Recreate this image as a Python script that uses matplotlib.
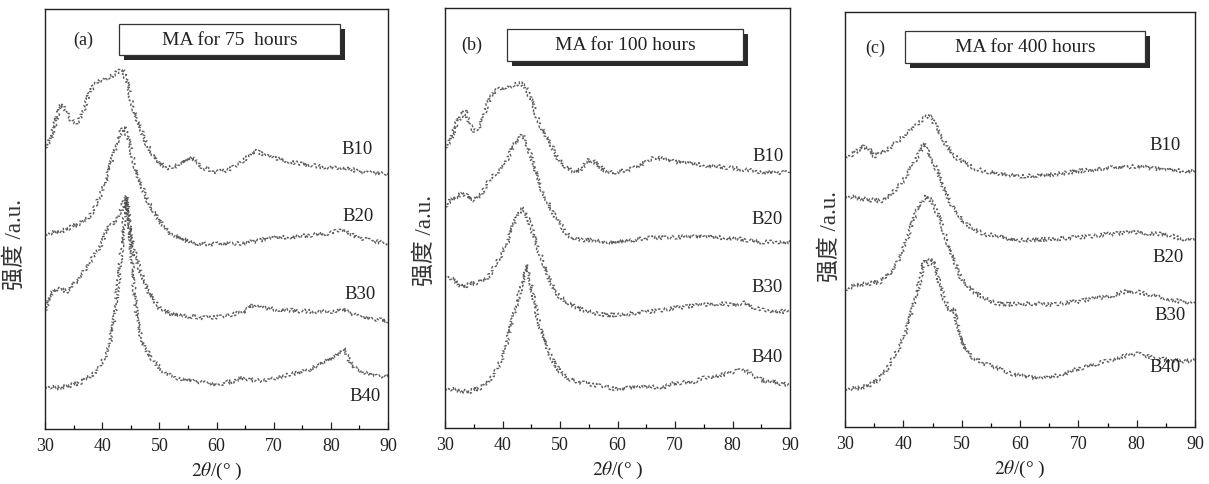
import matplotlib
matplotlib.use("Agg")
import matplotlib.pyplot as plt
from matplotlib.patches import Rectangle
from matplotlib.ticker import MultipleLocator

plt.rcParams["font.family"] = ["Liberation Serif", "Noto Sans CJK SC"]
plt.rcParams["mathtext.fontset"] = "stix"

# ---- data: XRD patterns (2theta in degrees, stacked intensity in a.u.) ----
PANEL_TITLES = ["MA for 75  hours", "MA for 100 hours", "MA for 400 hours"]
PANEL_TAGS = ["(a)", "(b)", "(c)"]
SAMPLES = ["B10", "B20", "B30", "B40"]

# (a) 75 h
A_B10_X = [30, 31, 31.5, 32.2, 32.9, 33.5, 34.2, 35, 35.6, 36.3, 37, 37.8, 38.5, 39.5, 41, 42, 43, 43.5,
           44.3, 45, 46, 47, 47.8, 48.7, 49.5, 51.3, 52.5, 53.6, 54.7, 55.7, 56.7, 57.7, 59, 60, 62, 64,
           65.5, 67, 68.5, 70, 72.5, 75, 77.5, 80, 83, 85, 87.5, 90]
A_B10_Y = [281, 290, 300, 315, 325, 320, 311, 307, 305, 312, 323, 336, 343, 348, 351, 354, 358, 360,
           348, 330, 311, 296, 285, 276, 268, 261, 262, 265, 269, 271, 266, 261, 259, 257, 259, 266,
           272, 278, 273, 271, 268, 265, 263, 261, 261, 257, 256, 255]
A_B20_X = [30, 33, 35, 37, 38.5, 40, 41, 42, 43, 43.8, 44.5, 45.5, 46.5, 48, 50, 52, 54, 56, 58, 60,
           65, 70, 75, 78, 80, 82, 83, 84, 87, 90]
A_B20_Y = [195, 198, 203, 208, 218, 238, 255, 275, 293, 303, 291, 268, 248, 228, 208, 195, 190, 186, 185, 185,
           186, 191, 193, 195, 196, 200, 197, 193, 188, 186]
A_B30_X = [30, 31, 32, 33, 34, 36, 38, 40, 41, 42, 43, 43.5, 44, 44.6, 45.5, 46.5, 48, 50, 52, 55, 58,
           60, 63, 65, 66, 68, 70, 75, 80, 82, 85, 90]
A_B30_Y = [118, 135, 140, 139, 138, 151, 168, 186, 201, 205, 215, 221, 231, 211, 181, 161, 138, 121, 115, 113, 111,
           112, 115, 117, 123, 121, 120, 118, 117, 120, 112, 108]
A_B40_X = [30, 32, 34, 36, 38, 39.5, 41, 42, 43, 43.5, 44, 44.3, 44.8, 45.3, 46, 46.5, 47.5, 49, 51, 53,
           56, 60, 63, 64, 65, 67, 70, 73, 76, 78, 80, 81.5, 82.2, 83, 84, 86, 88, 90]
A_B40_Y = [43, 41, 43, 46, 53, 61, 78, 105, 155, 188, 218, 233, 201, 161, 115, 98, 81, 68, 56, 51,
           48, 44, 48, 50, 51, 48, 50, 55, 58, 65, 70, 76, 81, 71, 61, 56, 53, 53]

# (b) 100 h
B_B10_X = [30, 31, 32, 33.5, 34.5, 35, 36, 37, 38, 39, 40.5, 42, 43, 44, 45, 46, 47, 48, 49.5, 51,
           52.5, 53.5, 55, 56, 57, 58, 59, 60, 63, 66.5, 70, 75, 80, 85, 90]
B_B10_Y = [280, 288, 305, 318, 301, 296, 301, 318, 331, 338, 340, 343, 345, 341, 328, 311, 298, 288, 271, 261,
           256, 258, 268, 266, 261, 256, 256, 256, 260, 271, 266, 263, 260, 256, 255]
B_B20_X = [30, 31, 32, 33, 34, 35, 36, 37, 38, 39, 40, 41, 42, 43, 43.5, 44, 45, 46, 47, 48, 49, 50,
           51, 52, 54, 56, 58, 60, 65, 70, 75, 80, 85, 90]
B_B20_Y = [221, 228, 231, 235, 231, 228, 231, 241, 250, 255, 261, 271, 283, 290, 293, 288, 271, 251, 235, 225, 213, 205,
           195, 190, 188, 188, 185, 186, 190, 191, 191, 190, 186, 186]
B_B30_X = [30, 31, 32, 33, 34, 35, 36, 37, 38, 39, 40, 41, 42, 43, 43.5, 44, 45, 46, 47, 48, 49, 50,
           52, 54, 56, 58, 60, 65, 70, 75, 78, 80, 82, 85, 90]
B_B30_Y = [153, 150, 146, 141, 143, 145, 146, 148, 155, 165, 175, 188, 205, 216, 221, 215, 201, 181, 168, 151, 138, 131,
           123, 118, 115, 113, 113, 116, 120, 123, 125, 123, 125, 118, 116]
B_B40_X = [30, 32, 34, 36, 37, 38, 39, 40, 41, 42, 43, 43.5, 44, 44.3, 44.8, 45.5, 46.5, 47.5, 48.5, 50,
           52, 54, 56, 58, 60, 62, 65, 68, 70, 73, 75, 78, 80, 82, 83, 85, 87, 90]
B_B40_Y = [40, 38, 36, 40, 43, 50, 58, 71, 91, 115, 135, 145, 155, 163, 148, 128, 101, 85, 70, 56,
           48, 45, 43, 42, 38, 40, 41, 41, 45, 46, 50, 53, 56, 58, 55, 48, 46, 43]

# (c) 400 h
C_B10_X = [30, 31, 32, 33, 34, 35, 36, 37, 38, 39, 40, 41, 42, 43, 44, 44.7, 45.5, 46.5, 47.5, 48.5,
           50, 52, 54, 56, 58, 60, 65, 70, 75, 80, 85, 90]
C_B10_Y = [274, 275, 279, 284, 282, 274, 277, 280, 284, 289, 294, 299, 305, 310, 314, 314, 305, 294, 284, 275,
           269, 262, 259, 257, 255, 254, 255, 259, 262, 264, 260, 259]
C_B20_X = [30, 32, 34, 36, 37, 38, 39, 40, 41, 42, 43, 43.5, 44, 45, 46, 47, 48, 49, 50, 52, 54, 56,
           58, 60, 65, 70, 75, 80, 85, 88, 90]
C_B20_Y = [234, 232, 230, 229, 230, 237, 242, 249, 260, 270, 279, 287, 280, 270, 257, 240, 227, 220, 210, 200, 195, 194,
           190, 189, 190, 192, 195, 197, 195, 190, 189]
C_B30_X = [30, 32, 34, 36, 37, 38, 39, 40, 41, 42, 43, 44, 45, 46, 47, 48, 49, 50, 52, 54, 56, 58,
           60, 65, 70, 75, 78, 80, 85, 90]
C_B30_Y = [139, 144, 145, 147, 152, 157, 167, 180, 197, 214, 227, 234, 227, 214, 197, 180, 164, 150, 137, 130, 125, 124,
           125, 124, 127, 132, 137, 137, 130, 124]
C_B40_X = [30, 32, 34, 35, 36, 37, 38, 39, 40, 41, 42, 43, 43.5, 44, 44.5, 45, 45.5, 46, 47, 48, 48.7,
           49.5, 50.5, 52, 54, 56, 58, 60, 63, 65, 68, 70, 73, 75, 78, 80, 83, 86, 90]
C_B40_Y = [39, 39, 42, 45, 50, 57, 67, 77, 90, 107, 130, 150, 167, 170, 164, 170, 167, 150, 130, 117, 119,
           97, 80, 70, 64, 60, 55, 52, 49, 50, 55, 59, 64, 67, 72, 74, 70, 67, 67]

PANEL_CURVES = [
    [(A_B10_X, A_B10_Y), (A_B20_X, A_B20_Y), (A_B30_X, A_B30_Y), (A_B40_X, A_B40_Y)],
    [(B_B10_X, B_B10_Y), (B_B20_X, B_B20_Y), (B_B30_X, B_B30_Y), (B_B40_X, B_B40_Y)],
    [(C_B10_X, C_B10_Y), (C_B20_X, C_B20_Y), (C_B30_X, C_B30_Y), (C_B40_X, C_B40_Y)],
]
X_TICKS = [30, 40, 50, 60, 70, 80, 90]

# ---- layout (pixel geometry of a 1209x485 canvas) ----
W, H = 1209, 485
fig = plt.figure(figsize=(W / 100, H / 100), dpi=100)
fig.patch.set_facecolor("white")


def fx(x):
    return x / W


def fy(y):
    return 1 - y / H


frames = [(45, 10, 388, 430), (445, 9, 790, 429), (845, 13, 1195, 428)]
boxes = [(119, 25, 340, 56), (507, 30, 743, 62), (905, 32, 1145, 64)]
tag_pos = [(83, 40), (472, 45), (875, 48)]
ylab_pos = [(15, 245), (425, 240), (830, 237)]
name_pos = [
    [(357, 150), (358, 217), (360, 295), (365, 397)],
    [(768, 157), (767, 220), (767, 288), (767, 358)],
    [(1165, 145), (1168, 258), (1170, 315), (1165, 368)],
]
TXT = "#222"

for i in range(3):
    l, t, r, b = frames[i]
    ax = fig.add_axes([fx(l), fy(b), (r - l) / W, (b - t) / H])
    for xs, ys in PANEL_CURVES[i]:
        line, = ax.plot(xs, ys, color="#444444", lw=1.0, ls=(0, (2.0, 1.1)), alpha=0.85)
        line.set_sketch_params(scale=2.0, length=2.5, randomness=6)
    ax.set_xlim(30, 90)
    ax.set_ylim(0, 420)
    ax.set_xticks(X_TICKS)
    ax.xaxis.set_minor_locator(MultipleLocator(5))
    ax.set_yticks([])
    ax.tick_params(axis="x", which="major", direction="in", length=5, width=0.9,
                   labelsize=13, pad=6, top=False, colors=TXT)
    ax.tick_params(axis="x", which="minor", direction="in", length=3, width=0.9, top=False)
    for s in ax.spines.values():
        s.set_linewidth(1.0)
        s.set_color(TXT)
    ax.set_xlabel(r"$\mathit{2\theta}$/(° )", fontsize=14, labelpad=4, color=TXT)

    # title box with drop shadow
    bl, bt, br, bb = boxes[i]
    fig.add_artist(Rectangle((fx(bl + 5), fy(bb + 5)), (br - bl) / W, (bb - bt) / H,
                             transform=fig.transFigure, facecolor="#2a2a2a", edgecolor="none"))
    fig.add_artist(Rectangle((fx(bl), fy(bb)), (br - bl) / W, (bb - bt) / H,
                             transform=fig.transFigure, facecolor="white", edgecolor="#333", lw=0.9))
    fig.text(fx((bl + br) / 2), fy((bt + bb) / 2), PANEL_TITLES[i], ha="center", va="center",
             fontsize=14, color=TXT)
    fig.text(fx(tag_pos[i][0]), fy(tag_pos[i][1]), PANEL_TAGS[i], ha="center", va="center",
             fontsize=13, color=TXT)
    fig.text(fx(ylab_pos[i][0]), fy(ylab_pos[i][1]), "强度 /a.u.", rotation=90, ha="center",
             va="center", fontsize=16.5, color="#333")
    for name, (nx, ny) in zip(SAMPLES, name_pos[i]):
        fig.text(fx(nx), fy(ny), name, ha="center", va="center", fontsize=13.5, color=TXT)

fig.savefig("out.png", dpi=100, facecolor="white")
